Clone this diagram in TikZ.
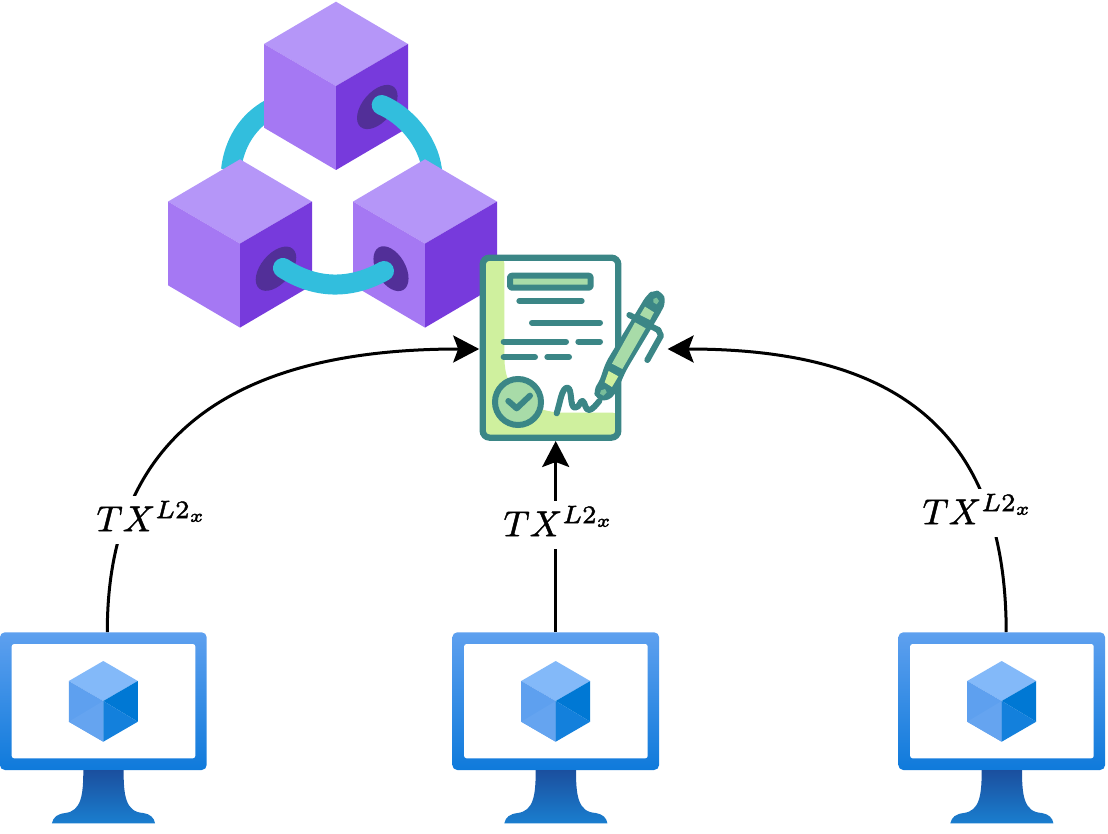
\documentclass[tikz,border=0pt]{standalone}
\usetikzlibrary{arrows.meta}
\definecolor{cubeTop}{HTML}{B596F8}
\definecolor{cubeLeft}{HTML}{A578F3}
\definecolor{cubeRight}{HTML}{773ADC}
\definecolor{holeDark}{HTML}{522F98}
\definecolor{ringCyan}{HTML}{32BEDD}
\definecolor{teal}{HTML}{3B8686}
\definecolor{lime}{HTML}{CFF09E}
\definecolor{mint}{HTML}{A8DBA8}
\definecolor{penTip}{HTML}{79BD9A}
\definecolor{frameTop}{HTML}{5EA0EF}
\definecolor{frameBot}{HTML}{0F7ADB}
\definecolor{standTop}{HTML}{1B4F9E}
\definecolor{standBot}{HTML}{1A7ECF}
\definecolor{iconTop}{HTML}{83B9F9}
\definecolor{iconLeft}{HTML}{5EA0EF}
\definecolor{iconLeftLow}{HTML}{65A4F0}
\definecolor{iconRight}{HTML}{0078D4}
\definecolor{iconRightLow}{HTML}{1380DC}
\tikzset{
  ring/.style={ringCyan,line width=20pt,line cap=round},
  ringflat/.style={ringCyan,line width=20pt},
  inkline/.style={teal,line width=6pt,line cap=round,line join=round},
  link/.style={black,line width=3pt,-{Stealth[length=26pt,width=27pt,inset=5pt]}},
  txlabel/.style={fill=white,inner xsep=1pt,inner ysep=0pt,minimum height=13.3pt,scale=3.6},
  anchorbox/.style={inner sep=0pt,minimum width=#1},
}
\newcommand{\txtext}{\raisebox{2.2pt}{\special{pdf:code q 2 Tr 0.12 w}$TX^{L2_x}$\special{pdf:code Q}}}
\newcommand{\blockcube}[2]{%
  \begin{scope}[shift={(#1,#2)}]
    \fill[cubeTop] (0,0) -- (72,42.3) -- (0,84.3) -- (-72,42.3) -- cycle;
    \fill[cubeLeft] (-72,42.3) -- (0,84.3) -- (0,168.3) -- (-72,126) -- cycle;
    \fill[cubeRight] (72,42.3) -- (0,84.3) -- (0,168.3) -- (72,126) -- cycle;
  \end{scope}}
\newcommand{\vmicon}[1]{%
  \begin{scope}[shift={(#1,0)}]
    \shade[top color=frameTop,bottom color=frameBot,rounded corners=5pt]
      (-103.4,632.3) rectangle (103.4,770);
    \fill[white,rounded corners=2.5pt] (-91.6,644) rectangle (92,758.3);
    \shade[top color=standTop,bottom color=standBot]
      (-20,770) -- (20.3,770) .. controls (20.3,795) and (22,812) .. (40,813)
      .. controls (47,814) and (51,818) .. (51.7,823.3) -- (-51.4,823.3)
      .. controls (-50,817) and (-46,814) .. (-38,813)
      .. controls (-22,811) and (-20,795) .. (-20,770) -- cycle;
    \fill[iconTop] (0,661) -- (34.5,681) -- (0,701) -- (-34.5,681) -- cycle;
    \fill[iconLeft] (-34.5,681) -- (0,701) -- (0,741.7) -- (-34.5,721.7) -- cycle;
    \fill[iconLeftLow] (-34.5,721.7) -- (0,701) -- (0,741.7) -- cycle;
    \fill[iconRight] (34.5,681) -- (0,701) -- (34.5,721.7) -- cycle;
    \fill[iconRightLow] (0,701) -- (34.5,721.7) -- (0,741.7) -- cycle;
  \end{scope}}
\begin{document}
\begin{tikzpicture}[x=1pt,y=-1pt]
\useasboundingbox (0,0) rectangle (1108,834);
% block chain
\draw[ringflat] (231,170) .. controls (234,143) and (248,121) .. (270,109);
\blockcube{336}{1.7}
\fill[holeDark,rotate around={-40:(377.3,107)}] (377.3,107) ellipse (15pt and 26pt);
\draw[ring] (381.7,105) .. controls (405,115) and (428,140) .. (432,170);
\blockcube{240}{159.3}
\blockcube{425}{159.3}
\fill[holeDark,rotate around={-40:(276,268.7)}] (276,268.7) ellipse (15pt and 26pt);
\fill[holeDark,rotate around={30:(391,268.7)}] (391,268.7) ellipse (14.5pt and 24.5pt);
\draw[ring] (283,268) .. controls (315,289) and (350,290) .. (384,271);
% document
\begin{scope}[shift={(470,245)},x=0.33333pt,y=-0.33333pt]
  \fill[white,rounded corners=6pt] (38,38) rectangle (445,578);
  \fill[lime,rounded corners=6pt] (38,38) -- (103,38) -- (103,340)
     .. controls (110,450) and (190,503) .. (300,503) -- (445,503) -- (445,578) -- (38,578) -- cycle;
  \draw[teal,line width=6.3pt,rounded corners=7pt] (38,38) rectangle (445,578);
  \draw[teal,fill=mint,line width=6pt,rounded corners=2pt,line join=round] (120,92) rectangle (362,128);
  \draw[inkline] (148,168) -- (335,168);
  \draw[inkline] (186,233) -- (390,233);
  \draw[inkline] (101,290) -- (288,290);
  \draw[inkline] (325,290) -- (390,290);
  \draw[inkline] (101,336) -- (195,336);
  \draw[inkline] (232,336) -- (297,336);
  \draw[teal,fill=mint,line width=6pt] (144,471) circle (23pt);
  \draw[inkline] (115,468) -- (140,490) -- (180,452);
  \draw[inkline] (260,505) .. controls (270,475) and (275,428) .. (292,428)
     .. controls (308,428) and (298,488) .. (315,488)
     .. controls (330,488) and (330,465) .. (338,468)
     .. controls (346,472) and (345,497) .. (358,495)
     .. controls (368,493) and (378,480) .. (388,468);
\end{scope}
% pen
\begin{scope}[shift={(590,285)},x=0.33333pt,y=-0.33333pt]
  \fill[teal,rounded corners=6pt] (170,30) -- (190,15) -- (217,20) -- (228,50) -- (214,80)
     -- (108,257) -- (77,327) -- (50,350) -- (18,342) -- (10,315) -- (28,290) -- (47,233) -- cycle;
  \draw[inkline] (118,90) -- (205,135);
  \draw[inkline] (205,135) -- (213,152) -- (172,225);
  \fill[mint] (135,112) -- (167,130) -- (97,252) -- (66,236) -- cycle;
  \fill[mint] (165,65) -- (192,82) -- (180,105) -- (150,90) -- cycle;
  \fill[lime] (56,258) -- (85,274) -- (66,306) -- (44,292) -- cycle;
  \fill[penTip] (33,316) -- (45,312) -- (50,322) -- (40,332) -- (30,326) -- cycle;
  \fill[penTip] (190,42) -- (200,38) -- (207,48) -- (200,58) -- (190,52) -- cycle;
\end{scope}
% virtual machines
\vmicon{103.3}
\vmicon{555.7}
\vmicon{1001.7}
% invisible named nodes
\path (103.3,632) node[anchorbox=207pt,anchor=north] (vmA) {};
\path (555.7,632) node[anchorbox=207pt,anchor=north] (vmB) {};
\path (1001.7,632) node[anchorbox=207pt,anchor=north] (vmC) {};
\node[inner sep=0pt,minimum width=188pt,minimum height=93pt] (doc) at (573.4,349) {};
\coordinate (docB) at (555.7,441);
% connectors
\draw[link] ([xshift=4pt]vmA.north) .. controls (107,420) and (254,349) .. (doc.west);
\draw[link] (vmB.north) -- (docB);
\draw[link] ([xshift=4.5pt]vmC.north) .. controls (1006,417) and (880,349) .. (doc.east);
% labels
\node[txlabel] (txA) at (152,520) {\txtext};
\node[txlabel] (txB) at (559,525) {\txtext};
\node[txlabel] (txC) at (978,513) {\txtext};
\end{tikzpicture}
\end{document}
